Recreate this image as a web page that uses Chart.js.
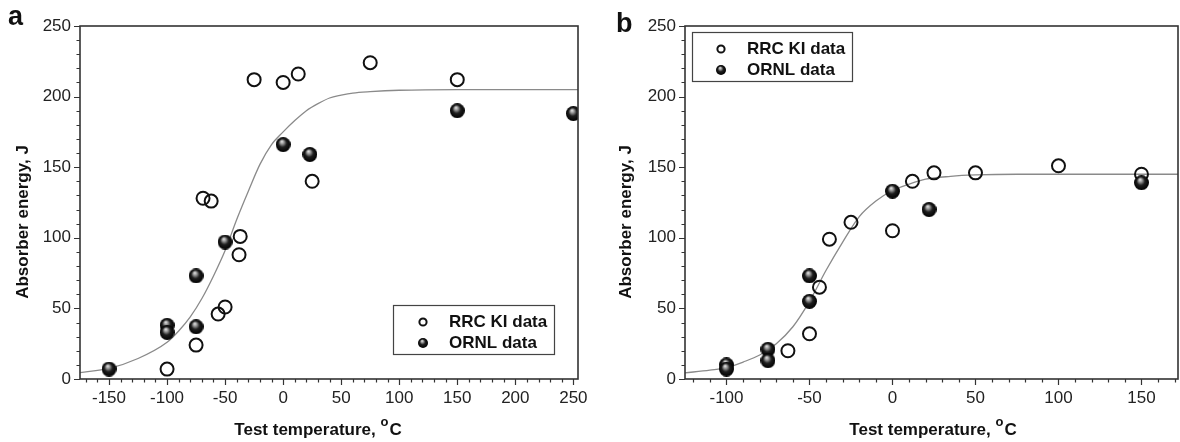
<!DOCTYPE html>
<html>
<head>
<meta charset="utf-8">
<script src="https://cdn.jsdelivr.net/npm/chart.js@4.4.1/dist/chart.umd.min.js"></script>
<style>
  body { margin: 0; background: #fff; }
  #wrap { position: relative; width: 1180px; height: 442px; font-family: 'Liberation Sans', Arial, sans-serif; color: #111; }
  canvas { position: absolute; top: 0; }
  .letter { position: absolute; font-weight: bold; font-size: 27px; line-height: 1; }
  .xtitle { position: absolute; top: 421px; font-weight: bold; font-size: 17px; line-height: 1; transform: translateX(-50%); white-space: nowrap; }
  .xtitle span { position: relative; top: -9px; font-size: 13px; margin-right: 1px; }
  .ytitle { position: absolute; font-weight: bold; font-size: 17px; line-height: 1; white-space: nowrap; transform: translate(-50%, -50%) rotate(-90deg); }
</style>
</head>
<body>
<div id="wrap">
  <canvas id="chartA" width="590" height="442" style="left:0"></canvas>
  <canvas id="chartB" width="590" height="442" style="left:590px"></canvas>
  <div class="letter" style="left:8px;top:3px">a</div>
  <div class="letter" style="left:616px;top:10px">b</div>
  <div class="ytitle" style="left:22px;top:222px">Absorber energy, J</div>
  <div class="ytitle" style="left:625px;top:222px">Absorber energy, J</div>
  <div class="xtitle" style="left:318px">Test temperature, <span>o</span>C</div>
  <div class="xtitle" style="left:933px">Test temperature, <span>o</span>C</div>
</div>
<script>
// ---- panel a data ----
var tempsRrcA   = [-100, -75, -56, -50, -37, -38, -69, -62, -25, 0, 13, 25, 75, 150];
var energyRrcA  = [7, 24, 46, 51, 101, 88, 128, 126, 212, 210, 216, 140, 224, 212];
var tempsOrnlA  = [-150, -100, -100, -75, -75, -50, 0, 23, 150, 250];
var energyOrnlA = [7, 38, 33, 73, 37, 97, 166, 159, 190, 188];
var curveTempA   = [-175, -150, -125, -100, -90, -80, -70, -60, -50, -40, -30, -20, -10, 0, 10, 20, 30, 40, 50, 60, 75, 100, 150, 200, 255];
var curveEnergyA = [4.5, 7.5, 14.5, 26, 34, 44, 57, 73, 91, 113, 133, 152, 166, 175, 183, 190, 195, 199, 201, 202.5, 203.5, 204.5, 205, 205, 205];

// ---- panel b data ----
var tempsRrcB   = [-63, -50, -44, -38, -25, 0, 12, 25, 50, 100, 150];
var energyRrcB  = [20, 32, 65, 99, 111, 105, 140, 146, 146, 151, 145];
var tempsOrnlB  = [-100, -100, -75, -75, -50, -50, 0, 22, 150];
var energyOrnlB = [10, 7, 21, 13, 73, 55, 133, 120, 139];
var curveTempB   = [-125, -110, -100, -90, -80, -70, -60, -50, -40, -30, -20, -10, 0, 10, 20, 35, 50, 75, 100, 172];
var curveEnergyB = [4.3, 6.3, 8, 12, 17, 25, 37, 55, 77, 97, 115, 126, 133.5, 138, 141.5, 143.5, 144.5, 145, 145, 145];

// ---- tick labels ----
var xTicksA = [-150, -100, -50, 0, 50, 100, 150, 200, 250];
var xTicksB = [-100, -50, 0, 50, 100, 150];
var yTicks  = [0, 50, 100, 150, 200, 250];

var seriesNames = ['RRC KI data', 'ORNL data'];

Chart.defaults.font.family = "'Liberation Sans', Arial, sans-serif";
Chart.defaults.color = '#222';

function pts(xs, ys) {
  return xs.map(function (x, i) { return { x: x, y: ys[i] }; });
}

// shaded black ball used for the ORNL markers
function ballImage(d) {
  var c = document.createElement('canvas');
  c.width = c.height = d;
  var g = c.getContext('2d');
  var r = d / 2;
  var grad = g.createRadialGradient(r * 0.8, r * 0.55, 0, r, r, r);
  grad.addColorStop(0, '#f0f0f0');
  grad.addColorStop(0.25, '#9a9a9a');
  grad.addColorStop(0.55, '#1e1e1e');
  grad.addColorStop(1, '#000');
  g.fillStyle = grad;
  g.beginPath();
  g.arc(r, r, r, 0, Math.PI * 2);
  g.fill();
  return c;
}
var ball = ballImage(15);
var smallBall = ballImage(10);

// outward major/minor ticks and the frame
var frameTicks = {
  id: 'frameTicks',
  afterDraw: function (chart) {
    var ctx = chart.ctx, a = chart.chartArea, x = chart.scales.x, y = chart.scales.y;
    ctx.save();
    ctx.strokeStyle = '#333';
    ctx.lineWidth = 1.2;
    ctx.beginPath();
    for (var v = Math.ceil(x.min / 10) * 10; v <= x.max; v += 10) {
      var px = Math.round(x.getPixelForValue(v)) + 0.5;
      var len = v % 50 === 0 ? 6 : 3.5;
      ctx.moveTo(px, a.bottom);
      ctx.lineTo(px, a.bottom + len);
    }
    for (var w = 0; w <= y.max; w += 10) {
      var py = Math.round(y.getPixelForValue(w)) + 0.5;
      var l2 = w % 50 === 0 ? 6 : 3.5;
      ctx.moveTo(a.left, py);
      ctx.lineTo(a.left - l2, py);
    }
    ctx.stroke();
    ctx.lineWidth = 1.6;
    ctx.strokeRect(a.left, a.top, a.width, a.height);
    ctx.restore();
  }
};

// boxed legend inside the plot
var boxLegend = {
  id: 'boxLegend',
  afterDraw: function (chart, args, o) {
    var ctx = chart.ctx;
    ctx.save();
    ctx.strokeStyle = '#444';
    ctx.lineWidth = 1.2;
    ctx.strokeRect(o.x + 0.5, o.y + 0.5, o.w, o.h);
    ctx.font = "bold 17px 'Liberation Sans', Arial, sans-serif";
    ctx.fillStyle = '#111';
    ctx.textBaseline = 'middle';
    // open marker
    ctx.beginPath();
    ctx.lineWidth = 2;
    ctx.strokeStyle = '#111';
    ctx.arc(o.markerX, o.rows[0], 3.6, 0, Math.PI * 2);
    ctx.stroke();
    ctx.fillText(seriesNames[0], o.textX, o.rows[0]);
    // ball marker
    ctx.drawImage(smallBall, o.markerX - 5, o.rows[1] - 5);
    ctx.fillText(seriesNames[1], o.textX, o.rows[1]);
    ctx.restore();
  }
};

function makeChart(id, rrcT, rrcE, ornlT, ornlE, cT, cE, xMin, xMax, xTicks, leftW, rightPad, legendOpts) {
  return new Chart(document.getElementById(id), {
    type: 'scatter',
    data: {
      datasets: [{
        label: seriesNames[1],
        data: pts(ornlT, ornlE),
        pointStyle: ball,
        pointRadius: 7.5,
        order: 1
      }, {
        label: seriesNames[0],
        data: pts(rrcT, rrcE),
        pointStyle: 'circle',
        pointRadius: 6.5,
        borderWidth: 2,
        borderColor: '#111',
        backgroundColor: 'rgba(255,255,255,0)',
        order: 2
      }, {
        type: 'line',
        label: 'fit',
        data: pts(cT, cE),
        borderColor: '#8a8a8a',
        borderWidth: 1.3,
        pointRadius: 0,
        cubicInterpolationMode: 'monotone',
        fill: false,
        order: 3
      }]
    },
    options: {
      responsive: false,
      animation: false,
      devicePixelRatio: 1,
      layout: { autoPadding: false, padding: { top: 26, right: rightPad, left: 0, bottom: 0 } },
      plugins: {
        legend: { display: false },
        tooltip: { enabled: false },
        boxLegend: legendOpts
      },
      scales: {
        x: {
          type: 'linear',
          min: xMin,
          max: xMax,
          grid: { display: false, drawTicks: false },
          border: { display: false },
          afterBuildTicks: function (s) { s.ticks = xTicks.map(function (v) { return { value: v }; }); },
          afterFit: function (s) { s.height = 63; s.paddingLeft = 0; s.paddingRight = 0; },
          ticks: { font: { size: 17 }, padding: 9, maxRotation: 0, color: '#222' }
        },
        y: {
          type: 'linear',
          min: 0,
          max: 250,
          grid: { display: false, drawTicks: false },
          border: { display: false },
          afterBuildTicks: function (s) { s.ticks = yTicks.map(function (v) { return { value: v }; }); },
          afterFit: function (s) { s.width = leftW; s.paddingTop = 0; s.paddingBottom = 0; },
          ticks: { font: { size: 17 }, padding: 9, color: '#222' }
        }
      }
    },
    plugins: [frameTicks, boxLegend]
  });
}

makeChart('chartA', tempsRrcA, energyRrcA, tempsOrnlA, energyOrnlA, curveTempA, curveEnergyA,
  -175, 254, xTicksA, 80, 12,
  { x: 393, y: 305, w: 161, h: 49, rows: [322, 343], markerX: 423, textX: 449 });

makeChart('chartB', tempsRrcB, energyRrcB, tempsOrnlB, energyOrnlB, curveTempB, curveEnergyB,
  -125, 172, xTicksB, 95, 2,
  { x: 102, y: 32, w: 160, h: 49, rows: [49, 70], markerX: 131, textX: 157 });
</script>
</body>
</html>
